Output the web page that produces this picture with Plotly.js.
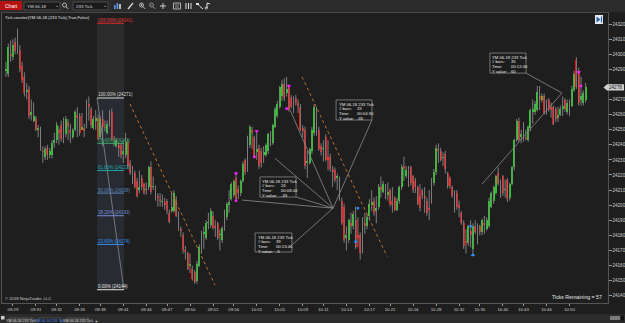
<!DOCTYPE html>
<html><head><meta charset="utf-8">
<script src="https://cdn.plot.ly/plotly-3.0.1.min.js"></script>
<style>html,body{margin:0;padding:0;background:#1e1e1e;overflow:hidden}#chart{width:625px;height:323px}</style>
</head><body><div id="chart"></div><script>
// ---------------- DATA ----------------
const open=[
24289,24287,24300,24298,24308,24302,24303,24292,24285,24275,
24277,24260,24256,24258,24250,24250,24236,24232,24238,24233,
24233,24241,24243,24250,24253,24245,24247,24255,24250,24245,
24250,24260,24259,24250,24251,24252,24267,24264,24251,24256,
24258,24245,24257,24252,24248,24254,24262,24244,24239,24240,
24240,24234,24233,24242,24228,24222,24221,24216,24210,24218,
24214,24210,24212,24225,24212,24212,24206,24204,24202,24202,
24203,24195,24196,24196,24204,24194,24184,24180,24170,24168,
24160,24158,24156,24150,24160,24170,24181,24178,24188,24187,
24193,24186,24188,24180,24177,24184,24192,24200,24204,24207,
24218,24211,24208,24216,24230,24224,24240,24250,24245,24235,
24238,24236,24233,24233,24236,24247,24241,24252,24259,24265,
24272,24280,24274,24278,24271,24267,24271,24268,
24265,24251,24250,24228,24228,24236,24248,24262,24250,24239,
24237,24245,24232,24232,24224,24223,24218,24217,24203,24199,
24178,24177,24188,24186,24190,24180,24180,24170,24188,24186,
24193,24200,24203,24196,24199,24212,24209,24212,24207,24210,
24203,24205,24197,24203,24212,24226,24219,24223,24225,24219,
24216,24212,24206,24210,24206,24203,24198,24203,24215,24222,
24237,24236,24231,24234,24221,24218,24212,24207,24208,24200,
24195,24188,24176,24175,24183,24171,24186,24183,24186,24182,
24188,24184,24186,24199,24203,24208,24221,24214,24219,24210,
24217,24205,24214,24225,24243,24256,24245,24254,24245,24243,
24251,24262,24262,24263,24272,24270,24272,24263,24270,24265,
24265,24264,24258,24260,24264,24270,24262,24266,24266,24276,
24296,24289,24270,24268,24270];
const high=[
24295,24307,24309,24310,24311,24317,24306,24295,24288,24281,
24279,24270,24268,24259,24253,24252,24239,24239,24240,24238,
24243,24248,24255,24252,24256,24258,24259,24257,24254,24251,
24263,24265,24261,24261,24254,24270,24272,24265,24259,24263,
24260,24259,24263,24256,24256,24263,24264,24246,24244,24242,
24241,24243,24248,24244,24230,24226,24223,24218,24223,24220,
24215,24215,24226,24229,24219,24213,24208,24208,24207,24205,
24204,24197,24208,24210,24206,24196,24186,24182,24173,24169,
24168,24160,24157,24163,24174,24183,24186,24190,24195,24198,
24196,24190,24189,24184,24186,24197,24202,24210,24215,24217,
24222,24213,24217,24229,24231,24246,24253,24252,24246,24248,
24240,24238,24239,24241,24248,24249,24254,24265,24269,24279,
24283,24284,24285,24280,24273,24272,24273,24270,
24267,24253,24252,24236,24238,24252,24267,24265,24252,24241,
24243,24247,24243,24234,24226,24225,24221,24219,24205,24201,
24186,24191,24195,24196,24199,24192,24182,24192,24195,24194,
24204,24210,24205,24206,24214,24219,24216,24214,24215,24211,
24212,24206,24205,24213,24227,24232,24226,24226,24226,24220,
24218,24213,24214,24211,24212,24205,24210,24218,24224,24240,
24241,24238,24235,24236,24222,24219,24213,24210,24210,24203,
24196,24190,24184,24187,24190,24188,24190,24188,24187,24191,
24193,24192,24205,24209,24213,24220,24225,24217,24220,24217,
24218,24215,24226,24244,24257,24258,24250,24255,24250,24253,
24264,24270,24269,24279,24279,24274,24274,24270,24271,24268,
24266,24265,24265,24266,24272,24271,24270,24270,24279,24289,
24298,24291,24285,24276,24281];
const low=[
24285,24285,24295,24296,24300,24300,24288,24281,24272,24270,
24257,24256,24255,24249,24245,24236,24228,24230,24230,24231,
24231,24238,24241,24240,24242,24241,24245,24243,24241,24244,
24249,24245,24246,24250,24245,24251,24256,24251,24250,24250,
24243,24244,24239,24249,24247,24252,24243,24239,24238,24232,
24231,24228,24231,24224,24220,24214,24211,24205,24208,24210,
24207,24207,24210,24207,24210,24203,24199,24199,24199,24197,
24194,24188,24195,24195,24192,24183,24179,24168,24164,24157,
24155,24150,24148,24148,24159,24168,24171,24177,24184,24185,
24184,24179,24177,24170,24175,24183,24190,24195,24203,24205,
24203,24204,24206,24215,24220,24222,24238,24237,24231,24230,
24224,24225,24228,24232,24234,24239,24240,24251,24258,24264,
24269,24269,24272,24262,24264,24261,24266,24261,
24249,24245,24224,24218,24227,24234,24246,24246,24236,24233,
24229,24229,24223,24222,24212,24215,24210,24203,24187,24175,
24170,24175,24181,24184,24171,24172,24164,24168,24181,24184,
24190,24196,24193,24188,24197,24205,24208,24204,24203,24199,
24195,24196,24196,24201,24210,24216,24218,24212,24213,24208,
24208,24200,24196,24204,24195,24193,24190,24201,24213,24220,
24228,24229,24226,24221,24211,24211,24205,24195,24197,24192,
24187,24171,24168,24173,24172,24166,24181,24174,24180,24180,
24181,24183,24185,24198,24201,24207,24213,24205,24206,24205,
24202,24203,24213,24223,24242,24242,24241,24242,24243,24242,
24249,24254,24260,24262,24263,24268,24260,24260,24262,24258,
24253,24255,24255,24259,24259,24262,24260,24259,24265,24275,
24277,24266,24266,24266,24268];
const close=[
24290,24305,24299,24306,24302,24312,24290,24283,24274,24276,
24259,24262,24259,24250,24251,24237,24235,24237,24233,24236,
24241,24243,24253,24248,24244,24248,24257,24252,24248,24250,
24262,24258,24248,24252,24249,24268,24265,24253,24257,24258,
24244,24257,24252,24251,24254,24255,24244,24243,24243,24238,
24233,24236,24242,24226,24221,24220,24212,24206,24212,24212,
24208,24211,24225,24209,24213,24204,24205,24203,24203,24200,
24196,24189,24199,24208,24193,24184,24183,24170,24169,24158,
24161,24151,24149,24161,24172,24181,24182,24188,24189,24196,
24185,24185,24178,24181,24185,24196,24201,24202,24214,24216,
24204,24208,24216,24227,24222,24244,24252,24248,24232,24237,
24226,24228,24235,24240,24247,24240,24253,24264,24267,24278,
24280,24271,24277,24263,24265,24268,24268,24266,
24250,24249,24226,24229,24237,24250,24265,24260,24237,24235,
24238,24230,24230,24224,24222,24217,24219,24204,24188,24177,
24180,24190,24186,24194,24172,24178,24168,24190,24186,24192,
24201,24202,24195,24198,24212,24210,24214,24206,24209,24201,
24200,24197,24203,24212,24225,24224,24223,24221,24215,24210,
24212,24201,24198,24206,24205,24195,24197,24216,24222,24238,
24236,24230,24232,24224,24213,24213,24206,24205,24199,24198,
24188,24173,24175,24186,24180,24186,24182,24184,24182,24190,
24187,24190,24203,24208,24212,24219,24214,24212,24208,24211,
24204,24214,24225,24243,24256,24243,24247,24243,24244,24252,
24263,24264,24267,24275,24270,24272,24261,24265,24264,24263,
24254,24257,24260,24264,24266,24264,24268,24265,24277,24287,
24278,24268,24272,24274,24278];

const tickBars=[3,13,22,32,41,51,61,70,80,90,99,109,119,129,138,148,158,167,177,187,197,206,216,225,235,245];
const tickTimes=['09:29','09:31','09:32','09:33','09:38','09:41','09:44','09:47','09:50','09:52','09:56','10:01','10:05','10:09','10:11','10:14','10:17','10:21','10:24','10:28','10:32','10:35','10:40','10:43','10:46','10:50'];
const priceTicks=[24140,24150,24160,24170,24180,24190,24200,24210,24220,24230,24240,24250,24260,24270,24280,24290,24300,24310,24320];

const fibLevels=['155.00%','100.00%','76.40%','61.80%','50.00%','38.20%','23.60%','0.00%'];
const fibPrices=[24341,24271,24241,24223,24208,24193,24174,24144];

const rulerBars=[24,39,19,35];
const rulerTimes=['00:08:44','00:13:46','00:04:30','00:12:46'];
const rulerYValues=[-33,-5,-65,60];

const sellArrowBars=[100,109,123,249], sellArrowPrices=[24221,24249,24279,24288];
const sellDotBars=[100,108,122,250], sellDotPrices=[24203,24232,24264,24279];
const buyDotBars=[153,202], buyDotPrices=[24198,24186];
const buyArrowBars=[152,203], buyArrowPrices=[24176,24167];

const lastPrice=24278;
const ticksRemaining=57;
const instrument='YM 06-18';
const period='233 Tick';

// ---------------- drawing-tool anchors (bar index, price) ----------------
const fibStart=39.6, fibEnd=51.3;
const trendA=[[53.9,24267],[90.9,24147]], trendB=[[128.7,24285],[165.7,24166]];
const apex=[142.2,24198];
const rulerStarts=[[117,24231],[102.6,24203.4],[123.5,24263],[207,24214]];
const rulerEnds=[apex,apex,apex,[241.7,24274.3]];
const boxes=[[110.4,126.1,24218.7,24205.4],[108.3,124.3,24181.6,24169.0],[143.5,159.1,24269.7,24256.4],[210.4,226.1,24300.8,24287.5]];
const boxLinkFrom=[[126.1,24205.4],[124.3,24173.6],[159.1,24256.4],[226.1,24287.5]];
const boxLinkTo=[apex,apex,apex,[241.7,24274.3]];

// ---------------- build ----------------
const F='Liberation Sans, Arial, sans-serif';
const N=close.length, idx=[...Array(N).keys()];
const UP='#16e016', DN='#f01010', WICK='#7d7d7d';
const wx=[], wy=[];
idx.forEach(i=>{wx.push(i,i,null); wy.push(low[i],high[i],null);});
const traces=[
 {type:'scatter',mode:'lines',x:wx,y:wy,line:{color:WICK,width:1},hoverinfo:'skip',connectgaps:false},
 {type:'bar',x:idx,base:idx.map(i=>Math.min(open[i],close[i])),y:idx.map(i=>Math.max(Math.abs(close[i]-open[i]),0.8)),
  width:0.8,marker:{color:idx.map(i=>close[i]>=open[i]?UP:DN),line:{width:0}},hoverinfo:'skip'},
 {type:'scatter',mode:'markers',x:sellArrowBars,y:sellArrowPrices,marker:{symbol:'triangle-down',size:4,color:'#ff20ff'},hoverinfo:'skip'},
 {type:'scatter',mode:'markers',x:sellDotBars,y:sellDotPrices,marker:{symbol:'square',size:2.5,color:'#ff20ff'},hoverinfo:'skip'},
 {type:'scatter',mode:'markers',x:buyDotBars,y:buyDotPrices,marker:{symbol:'square',size:2.5,color:'#2a8cff'},hoverinfo:'skip'},
 {type:'scatter',mode:'markers',x:buyArrowBars,y:buyArrowPrices,marker:{symbol:'triangle-up',size:4,color:'#2a8cff'},hoverinfo:'skip'}
];

const PX=px=>(px-2)/606, PY=py=>(303-py)/290;
const shapes=[], ann=[];
function rectP(x0,y0,x1,y1,fill,line,layer){shapes.push({type:'rect',xref:'paper',yref:'paper',x0:PX(x0),x1:PX(x1),y0:PY(y0),y1:PY(y1),fillcolor:fill,line:{color:line||fill,width:line?0.8:0},layer:layer||'above'});}
function lineP(x0,y0,x1,y1,c,w){shapes.push({type:'line',xref:'paper',yref:'paper',x0:PX(x0),x1:PX(x1),y0:PY(y0),y1:PY(y1),line:{color:c,width:w||1},layer:'above'});}
function circP(x0,y0,x1,y1,c){shapes.push({type:'circle',xref:'paper',yref:'paper',x0:PX(x0),x1:PX(x1),y0:PY(y0),y1:PY(y1),line:{color:c,width:0.8},layer:'above'});}
function txtP(px,py,t,size,color,anchor){ann.push({xref:'paper',yref:'paper',x:PX(px),y:PY(py),text:t,showarrow:false,xanchor:anchor||'left',yanchor:'middle',borderpad:0,font:{family:F,size:size,color:color}});}
function lineD(a,b,c,w,dash){shapes.push({type:'line',xref:'x',yref:'y',x0:a[0],y0:a[1],x1:b[0],y1:b[1],line:{color:c,width:w||0.8,dash:dash||'solid'},layer:'above'});}

// Fibonacci band
const fibColors=['#e02828','#d8d8d8','#3fae6a','#1fa8a8','#5a86bf','#7190d8','#2f8ff0','#e6e6e6'];
shapes.push({type:'rect',xref:'x',yref:'y',x0:fibStart,x1:fibEnd,y0:fibPrices[1],y1:24324,fillcolor:'rgba(255,255,255,0.06)',line:{width:0},layer:'below'});
shapes.push({type:'rect',xref:'x',yref:'y',x0:fibStart,x1:fibEnd,y0:fibPrices[7],y1:fibPrices[1],fillcolor:'rgba(110,140,185,0.13)',line:{width:0},layer:'below'});
lineD([fibStart,fibPrices[1]],[fibEnd,fibPrices[7]],'#8a8a8a',0.8);
fibLevels.forEach((lv,k)=>{
  const yp=Math.min(fibPrices[k],24320.5);
  lineD([fibStart,yp],[fibEnd,yp],fibColors[k],1);
  ann.push({xref:'x',yref:'y',x:fibStart,y:yp,text:lv+' ('+fibPrices[k]+')',showarrow:false,xanchor:'left',yanchor:'bottom',yshift:-0.5,borderpad:0,font:{family:F,size:4.5,color:fibColors[k]}});
});

// trend lines
lineD(trendA[0],trendA[1],'#c0702e',1,'dot');
lineD(trendB[0],trendB[1],'#c0702e',1,'dot');

// rulers
rulerStarts.forEach((s,k)=>lineD(s,rulerEnds[k],'#8c8c8c',0.8));
boxLinkFrom.forEach((s,k)=>lineD(s,boxLinkTo[k],'#8c8c8c',0.8));
boxes.forEach((b,k)=>{
  shapes.push({type:'rect',xref:'x',yref:'y',x0:b[0],x1:b[1],y0:b[3],y1:b[2],fillcolor:'#1c1c1c',line:{color:'#8a8a8a',width:0.8},layer:'above'});
  const labels=[instrument+' '+period,'# bars:','Time:','Y value:'];
  const vals=['',String(rulerBars[k]),rulerTimes[k],String(rulerYValues[k])];
  labels.forEach((t,j)=>{
    ann.push({xref:'x',yref:'y',x:b[0],y:b[2],xshift:1.5,yshift:-(0.6+4.8*j),text:t,showarrow:false,xanchor:'left',yanchor:'top',borderpad:0,font:{family:F,size:4.2,color:'#e8e8e8'}});
    if(vals[j]) ann.push({xref:'x',yref:'y',x:b[0],y:b[2],xshift:20,yshift:-(0.6+4.8*j),text:vals[j],showarrow:false,xanchor:'left',yanchor:'top',borderpad:0,font:{family:F,size:4.2,color:'#e8e8e8'}});
  });
});

// current price label on the price axis (it covers the tick label beneath it)
shapes.push({type:'path',xref:'paper',yref:'y',path:`M ${PX(603.5)},${lastPrice} L ${PX(607)},${lastPrice+2.1} L ${PX(624)},${lastPrice+2.1} L ${PX(624)},${lastPrice-2.1} L ${PX(607)},${lastPrice-2.1} Z`,fillcolor:'#cfcfcf',line:{width:0},layer:'above'});
ann.push({xref:'paper',yref:'y',x:PX(615.5),y:lastPrice,text:String(lastPrice),showarrow:false,xanchor:'center',yanchor:'middle',borderpad:0,font:{family:F,size:4.6,color:'#111'}});
const priceTickText=priceTicks.map(p=>Math.abs(p-lastPrice)<4?'':String(p));

// texts in the panel
txtP(4,17,'Tick counter('+instrument+' ('+period+'),True,False)',4.2,'#e6e6e6');
txtP(4,298,'© 2018 NinjaTrader, LLC',4.2,'#cfcfcf');
txtP(603,297,'Ticks Remaining = '+ticksRemaining,5.2,'#e6e6e6','right');

// scroll-to-end icon
rectP(595,15,603,24,'#e8eef8');
shapes.push({type:'path',xref:'paper',yref:'paper',path:`M ${PX(596.5)},${PY(16.5)} L ${PX(600.5)},${PY(19.5)} L ${PX(596.5)},${PY(22.5)} Z`,fillcolor:'#2a5ea8',line:{width:0},layer:'above'});
lineP(601.5,16.5,601.5,22.5,'#2a5ea8',1.2);

// top toolbar
rectP(-1,-1,626,12.3,'#2b2b2b');
rectP(0,1,22,10,'#b51212');
txtP(11,5.6,'Chart',5,'#ffffff','center');
rectP(24,2,60,10,'#1b1b1b','#555');
txtP(26,6,instrument,4.4,'#dddddd');
txtP(57,5.5,'⌄',4.5,'#cccccc','center');
circP(62.5,3,66.5,7,'#d0d0d0'); lineP(66,6.6,68,8.8,'#d0d0d0',1);
rectP(73,2,108,10,'#1b1b1b','#555');
txtP(75,6,period,4.4,'#dddddd');
txtP(105,5.5,'⌄',4.5,'#cccccc','center');
rectP(114,5,115.6,9,'#5b9be6'); rectP(116.6,3,118.2,9,'#5b9be6'); rectP(119.2,4,120.8,9,'#dddddd');
lineP(128,9,133,3,'#dddddd',1.2);
circP(139.5,3,143.5,7,'#d0d0d0'); lineP(143,6.6,145,8.8,'#d0d0d0',1); lineP(140.5,5,142.5,5,'#d0d0d0',0.7); lineP(141.5,4,141.5,6,'#d0d0d0',0.7);
circP(149.5,3,153.5,7,'#9a9a9a'); lineP(153,6.6,155,8.8,'#9a9a9a',1); lineP(150.5,5,152.5,5,'#9a9a9a',0.7);
lineP(160,6,166,6,'#d0d0d0',1); lineP(163,3,163,9,'#d0d0d0',1);
rectP(173.5,3,180.5,9,'#2b2b2b','#d0d0d0'); lineP(175,5,179,5,'#d0d0d0',0.6); lineP(175,7,179,7,'#d0d0d0',0.6);
lineP(186,3,186,9,'#e0e0e0',1); lineP(188.5,3,188.5,9,'#e0e0e0',1); lineP(191,3,191,9,'#e0e0e0',1);
lineP(197,3.5,200,6.5,'#e0e0e0',1); lineP(200,6.5,203,9,'#e0e0e0',1); rectP(196,3,199,5,'#e0e0e0');
lineP(207,3,207,8,'#e0e0e0',1); lineP(207,3,210,4,'#e0e0e0',1); circP(205,7,207.5,9,'#e0e0e0');

// bottom tab bar
rectP(-1,314,626,324,'#2c2c2c');
rectP(1,316,4.5,319.5,'#d0d0d0');
rectP(9,318,33,324,'#3b3b3b','#555'); txtP(21,321,instrument+' '+period,3.6,'#d6d6d6','center');
rectP(38,318,61,324,'#1d1d1d','#555'); txtP(49.5,321,instrument+' '+period,3.6,'#4a98ff','center');
rectP(66,318,89,324,'#3b3b3b','#555'); txtP(77.5,321,instrument+' '+period,3.6,'#d6d6d6','center');
txtP(96,320.5,'+',5,'#d6d6d6','center');
rectP(610,316,620,320,'#7a7a7a'); rectP(621,315.5,624,320.5,'#111111');

const layout={
  width:625,height:323,margin:{l:2,r:17,t:13,b:20,pad:0},
  paper_bgcolor:'#1e1e1e',plot_bgcolor:'#1e1e1e',showlegend:false,
  barmode:'overlay',bargap:0,
  xaxis:{range:[-1.74,261.74],autorange:false,showgrid:false,zeroline:false,showline:true,mirror:true,linecolor:'#555555',linewidth:1,
    ticks:'outside',ticklen:2,tickcolor:'#9a9a9a',tickvals:tickBars,ticktext:tickTimes,
    tickfont:{family:F,size:4.3,color:'#cfcfcf'},fixedrange:true},
  yaxis:{side:'right',range:[24135.2,24327.3],autorange:false,showgrid:false,zeroline:false,showline:true,mirror:true,linecolor:'#555555',linewidth:1,
    ticks:'outside',ticklen:2.5,tickcolor:'#9a9a9a',tickvals:priceTicks,ticktext:priceTickText,
    tickfont:{family:F,size:4.6,color:'#cfcfcf'},fixedrange:true},
  shapes:shapes,annotations:ann
};
Plotly.newPlot('chart',traces,layout,{staticPlot:true,displayModeBar:false});
</script></body></html>
